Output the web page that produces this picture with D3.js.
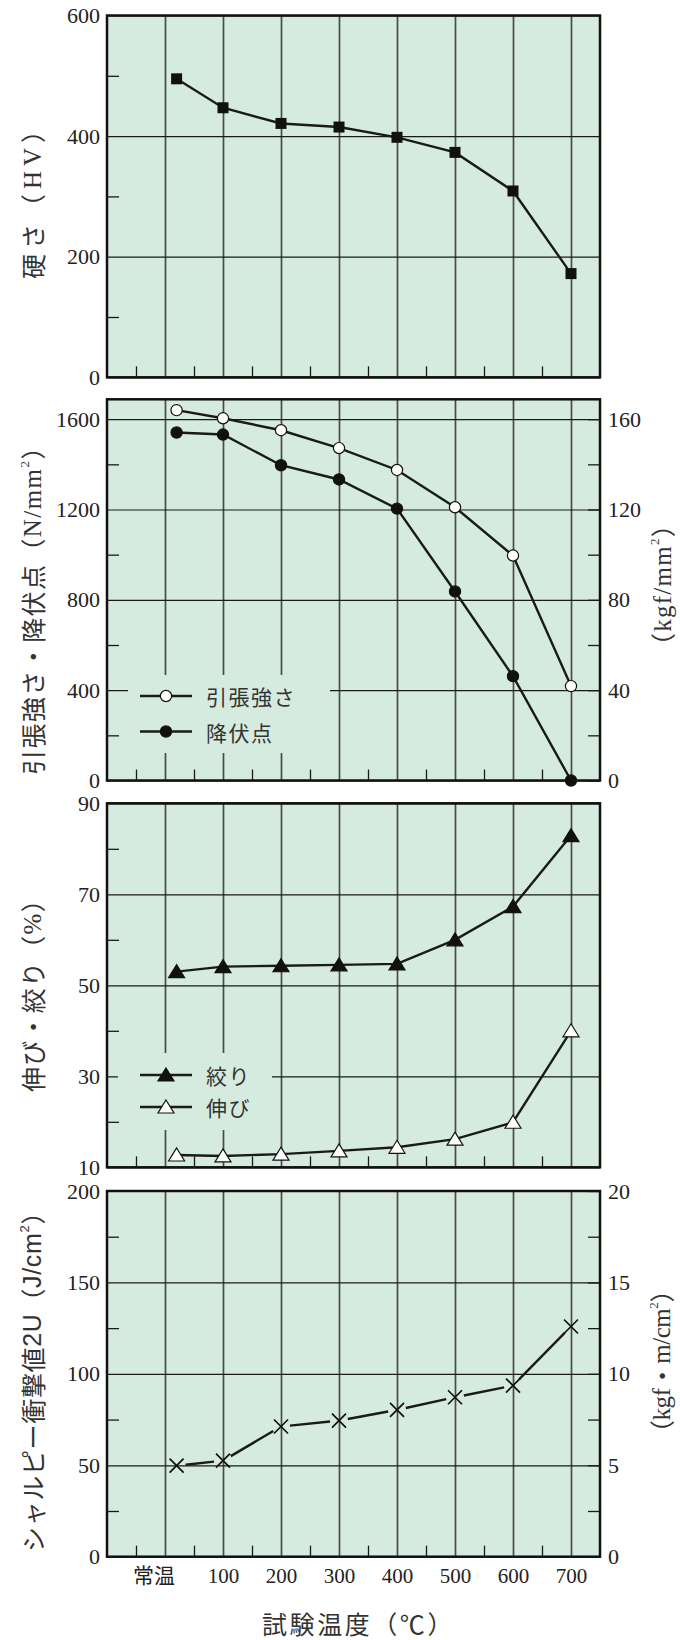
<!DOCTYPE html>
<html><head><meta charset="utf-8">
<script src="https://cdn.jsdelivr.net/npm/d3@7"></script>
<style>
body{margin:0;background:#fff}
svg{display:block}
text{text-spacing-trim:space-all}
</style></head><body>
<svg id="c" width="680" height="1640"></svg>
<script>
// ---------- data ----------
const temps = [20, 100, 200, 300, 400, 500, 600, 700];
const xTickValues = [-20, 100, 200, 300, 400, 500, 600, 700];
const xTickLabels = ["常温", "100", "200", "300", "400", "500", "600", "700"];
const xGridValues = [0, 100, 200, 300, 400, 500, 600, 700];
const xMinorValues = [-50, 50, 150, 250, 350, 450, 550, 650];

const hardness = [495, 447, 421, 415, 398, 373, 309, 172];
const tensile = [1640, 1604, 1551, 1472, 1375, 1210, 996, 418];
const yieldPoint = [1541, 1532, 1396, 1333, 1204, 837, 462, 0];
const reduction = [53.0, 54.1, 54.3, 54.5, 54.7, 60.0, 67.3, 82.9];
const elongation = [12.7, 12.5, 12.9, 13.6, 14.4, 16.2, 19.9, 40.0];
const charpy = [49.8, 52.5, 71.2, 74.4, 80.3, 87.2, 93.6, 125.9];

const hvMajor = [0, 200, 400, 600], hvMinor = [100, 300, 500];
const tsMajor = [0, 400, 800, 1200, 1600], tsMinor = [200, 600, 1000, 1400];
const kgfMajor = [0, 40, 80, 120, 160], kgfMinor = [20, 60, 100, 140];
const pctMajor = [10, 30, 50, 70, 90], pctMinor = [20, 40, 60, 80];
const jMajor = [0, 50, 100, 150, 200], jMinor = [25, 75, 125, 175];
const kgfmMajor = [0, 5, 10, 15, 20], kgfmMinor = [2.5, 7.5, 12.5, 17.5];

// ---------- layout ----------
const BG = "#d6ebdf";
const NUM = "'Liberation Serif','Times New Roman',serif";
const CJK = "'Noto Sans CJK JP','Noto Sans',sans-serif";
const SANS = "'Liberation Sans',Arial,sans-serif";
const L = 107, R = 600;
const svg = d3.select("#c");
const x = d3.scaleLinear().domain([-100, 750]).range([L, R]);

function panel(cfg) {
  const y = d3.scaleLinear().domain(cfg.domain).range([cfg.bottom, cfg.top]);
  const h = cfg.bottom - cfg.top;
  const g = svg.append("g");
  g.append("rect").attr("x", L).attr("y", cfg.top).attr("width", R - L).attr("height", h).attr("fill", BG);

  g.append("g").attr("transform", `translate(0,${cfg.bottom})`)
    .call(d3.axisBottom(x).tickValues(xGridValues).tickSize(-h).tickFormat(""))
    .call(a => { a.select(".domain").remove(); a.selectAll("line").attr("stroke", "#4a4a4a").attr("stroke-width", 1.7); });
  g.append("g").attr("transform", `translate(${L},0)`)
    .call(d3.axisLeft(y).tickValues(cfg.major).tickSize(-(R - L)).tickPadding(7).tickFormat(d3.format("d")))
    .call(a => {
      a.select(".domain").remove();
      a.selectAll("line").attr("stroke", "#1a1a1a").attr("stroke-width", 1.2);
      a.selectAll("text").attr("font-family", NUM).attr("font-size", 22).attr("fill", "#222");
    });
  if (cfg.legend) {
    const lb = cfg.legend.box;
    g.append("rect").attr("x", lb[0]).attr("y", lb[1]).attr("width", lb[2]).attr("height", lb[3]).attr("fill", BG);
  }
  g.append("g").attr("transform", `translate(${L},0)`)
    .call(d3.axisLeft(y).tickValues(cfg.minor).tickSize(-12).tickFormat(""))
    .call(a => { a.select(".domain").remove(); a.selectAll("line").attr("stroke", "#1a1a1a").attr("stroke-width", 1.3); });
  g.append("g").attr("transform", `translate(0,${cfg.bottom})`)
    .call(d3.axisBottom(x).tickValues(xMinorValues).tickSize(-11).tickFormat(""))
    .call(a => { a.select(".domain").remove(); a.selectAll("line").attr("stroke", "#1a1a1a").attr("stroke-width", 1.3); });

  if (cfg.right) {
    const y2 = d3.scaleLinear().domain(cfg.right.domain).range([cfg.bottom, cfg.top]);
    g.append("g").attr("transform", `translate(${R},0)`)
      .call(d3.axisRight(y2).tickValues(cfg.right.major).tickSize(-12).tickPadding(8).tickFormat(d3.format("d")))
      .call(a => {
        a.select(".domain").remove();
        a.selectAll("line").attr("stroke", "#1a1a1a").attr("stroke-width", 1.3);
        a.selectAll("text").attr("font-family", NUM).attr("font-size", 22).attr("fill", "#222");
      });
    g.append("g").attr("transform", `translate(${R},0)`)
      .call(d3.axisRight(y2).tickValues(cfg.right.minor).tickSize(-12).tickFormat(""))
      .call(a => { a.select(".domain").remove(); a.selectAll("line").attr("stroke", "#1a1a1a").attr("stroke-width", 1.3); });
  }

  cfg.series.forEach(s => {
    const pts = temps.map((t, i) => [x(t), y(s.values[i])]);
    if (s.gap) {
      for (let i = 0; i < pts.length - 1; i++) {
        const [x1, y1] = pts[i], [x2, y2] = pts[i + 1];
        const dx = x2 - x1, dy = y2 - y1, len = Math.hypot(dx, dy);
        const ux = dx / len, uy = dy / len;
        g.append("line").attr("x1", x1 + ux * s.gap).attr("y1", y1 + uy * s.gap)
          .attr("x2", x2 - ux * s.gap).attr("y2", y2 - uy * s.gap)
          .attr("stroke", "#1a1a1a").attr("stroke-width", 2.4);
      }
    } else {
      g.append("path").attr("d", d3.line()(pts)).attr("fill", "none")
        .attr("stroke", "#1a1a1a").attr("stroke-width", 2.4);
    }
    pts.forEach(p => marker(g, s.marker, p[0], p[1]));
  });

  if (cfg.legend) {
    cfg.legend.items.forEach(it => {
      g.append("line").attr("x1", 140).attr("x2", 192).attr("y1", it.y).attr("y2", it.y)
        .attr("stroke", "#1a1a1a").attr("stroke-width", 2.4);
      marker(g, it.marker, 166, it.y);
      g.append("text").attr("x", 206).attr("y", it.y).attr("dominant-baseline", "central")
        .attr("font-family", CJK).attr("font-size", 21).attr("letter-spacing", 1.5)
        .attr("fill", "#333").text(it.label);
    });
  }

  g.append("rect").attr("x", L).attr("y", cfg.top).attr("width", R - L).attr("height", h)
    .attr("fill", "none").attr("stroke", "#111").attr("stroke-width", 2.5);
  return { g, y };
}

function marker(g, type, cx, cy) {
  const k = "#111";
  if (type === "square") {
    g.append("rect").attr("x", cx - 5.5).attr("y", cy - 5.5).attr("width", 11).attr("height", 11).attr("fill", k);
  } else if (type === "circle-open" || type === "circle-filled") {
    g.append("circle").attr("cx", cx).attr("cy", cy).attr("r", 5.6)
      .attr("fill", type === "circle-open" ? "#fff" : k).attr("stroke", k).attr("stroke-width", 1.2);
  } else if (type === "tri-open" || type === "tri-filled") {
    g.append("path").attr("d", `M${cx},${cy - 7}L${cx + 8},${cy + 6}L${cx - 8},${cy + 6}Z`)
      .attr("fill", type === "tri-open" ? "#fff" : k).attr("stroke", k).attr("stroke-width", 1.2);
  } else if (type === "cross") {
    const s = 7;
    g.append("path").attr("d", `M${cx - s},${cy - s}L${cx + s},${cy + s}M${cx - s},${cy + s}L${cx + s},${cy - s}`)
      .attr("stroke", k).attr("stroke-width", 1.7).attr("fill", "none");
  }
}

// ---------- panels ----------
panel({ top: 15.5, bottom: 377.3, domain: [0, 600], major: hvMajor, minor: hvMinor,
  series: [{ values: hardness, marker: "square" }] });

panel({ top: 399.3, bottom: 780.5, domain: [0, 1688], major: tsMajor, minor: tsMinor,
  right: { domain: [0, 168.8], major: kgfMajor, minor: kgfMinor },
  series: [{ values: yieldPoint, marker: "circle-filled" }, { values: tensile, marker: "circle-open" }],
  legend: { box: [128, 675, 202, 78], items: [
    { y: 696, marker: "circle-open", label: "引張強さ" },
    { y: 731.5, marker: "circle-filled", label: "降伏点" }] } });

panel({ top: 803.3, bottom: 1167.3, domain: [10, 90], major: pctMajor, minor: pctMinor,
  series: [{ values: reduction, marker: "tri-filled" }, { values: elongation, marker: "tri-open" }],
  legend: { box: [118, 1053, 154, 77], items: [
    { y: 1075, marker: "tri-filled", label: "絞り" },
    { y: 1107, marker: "tri-open", label: "伸び" }] } });

panel({ top: 1191, bottom: 1556.7, domain: [0, 200], major: jMajor, minor: jMinor,
  right: { domain: [0, 20], major: kgfmMajor, minor: kgfmMinor },
  series: [{ values: charpy, marker: "cross", gap: 9 }] });

svg.append("g").attr("transform", `translate(0,1556.7)`)
  .call(d3.axisBottom(x).tickValues(xTickValues).tickSize(0).tickPadding(11)
    .tickFormat((d, i) => xTickLabels[i]))
  .call(a => {
    a.select(".domain").remove();
    a.selectAll("text").attr("font-family", `'Liberation Serif','Noto Sans CJK JP',serif`)
      .attr("font-size", 21).attr("fill", "#222");
  });

// ---------- titles ----------
function fitSpacing(t, target) {
  const node = t.node();
  const n = node.textContent.length;
  let ls = 0;
  for (let k = 0; k < 3; k++) {
    const w = node.getBBox().width;
    ls += (target - w) / Math.max(1, n);
    t.attr("letter-spacing", ls.toFixed(2));
  }
}
function vtitle(cx, start, len, parts) {
  const t = svg.append("text").attr("transform", `translate(${cx},${start}) rotate(-90)`)
    .attr("text-anchor", "start").attr("dominant-baseline", "central")
    .attr("font-size", 25).attr("fill", "#333");
  parts.forEach(p => {
    const ts = t.append("tspan").attr("font-family", p.f || CJK).text(p.t);
    if (p.sup) ts.attr("font-size", 13).attr("baseline-shift", "super");
  });
  fitSpacing(t, len);
}
vtitle(32, 279, 166, [{ t: "硬さ（" }, { t: "HV", f: NUM }, { t: "）" }]);
vtitle(32, 775, 342, [{ t: "引張強さ・降伏点（" }, { t: "N/mm", f: NUM }, { t: "2", f: NUM, sup: true }, { t: "）" }]);
vtitle(32, 1092, 206, [{ t: "伸び・絞り（" }, { t: "%", f: NUM }, { t: "）" }]);
vtitle(32, 1552, 353, [{ t: "シャルピー衝撃値" }, { t: "2U", f: SANS }, { t: "（" },
  { t: "J/cm", f: SANS }, { t: "2", f: SANS, sup: true }, { t: "）" }]);
vtitle(662, 658, 147, [{ t: "（" }, { t: "kgf/mm", f: NUM }, { t: "2", f: NUM, sup: true }, { t: "）" }]);
vtitle(661, 1445, 167, [{ t: "（" }, { t: "kgf", f: NUM }, { t: "・" }, { t: "m/cm", f: NUM }, { t: "2", f: NUM, sup: true }, { t: "）" }]);

const xt = svg.append("text").attr("x", 262).attr("y", 1623).attr("text-anchor", "start").attr("dominant-baseline", "central")
  .attr("font-family", CJK).attr("font-size", 25).attr("fill", "#333").text("試験温度（℃）");
fitSpacing(xt, 193);
</script>
</body></html>
